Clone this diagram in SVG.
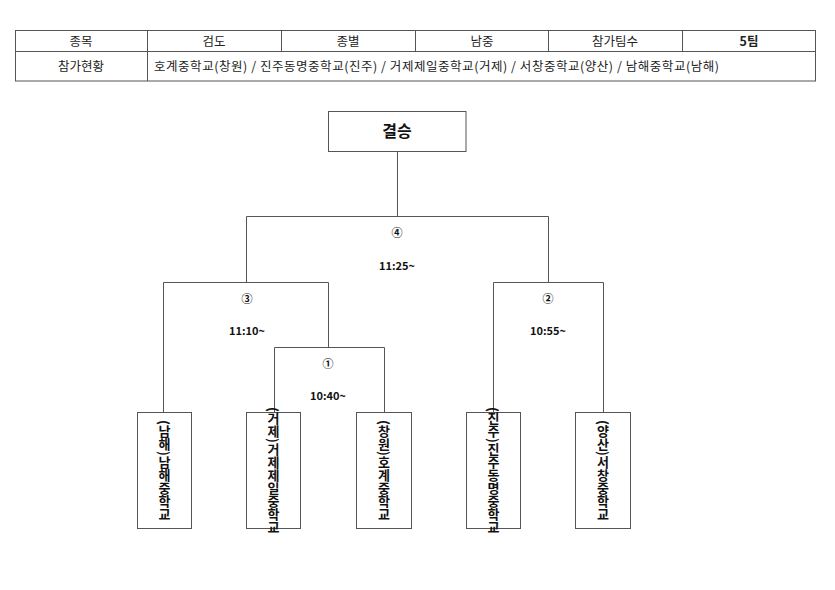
<svg xmlns="http://www.w3.org/2000/svg" width="835" height="590" viewBox="0 0 835 590">
<style>
.ln{fill:none;stroke:#555;stroke-width:1}
.tt{font-family:"Noto Sans CJK KR","Liberation Sans",sans-serif;font-size:12.5px;fill:#222}
.c{text-anchor:middle}
.lb{font-family:"Noto Sans CJK KR","Liberation Sans",sans-serif;font-size:11px;font-weight:bold;fill:#111;text-anchor:middle}
.ttl{font-family:"Noto Sans CJK KR","Liberation Sans",sans-serif;font-size:16px;font-weight:bold;fill:#111;text-anchor:middle}
.vt{font-family:"Noto Sans CJK KR","Liberation Sans",sans-serif;font-size:13px;font-weight:bold;fill:#111;writing-mode:vertical-rl;text-anchor:middle}
</style>
<rect width="835" height="590" fill="#fff"/>
<g id="table">
<rect class="ln" x="15.5" y="30.5" width="800" height="50.5"/>
<line class="ln" x1="15.5" y1="51.5" x2="815.5" y2="51.5"/>
<line class="ln" x1="147.5" y1="30.5" x2="147.5" y2="81"/>
<line class="ln" x1="281.5" y1="30.5" x2="281.5" y2="51.5"/>
<line class="ln" x1="415.5" y1="30.5" x2="415.5" y2="51.5"/>
<line class="ln" x1="548.5" y1="30.5" x2="548.5" y2="51.5"/>
<line class="ln" x1="682.5" y1="30.5" x2="682.5" y2="51.5"/>
<text class="tt c" x="81" y="45.5">종목</text>
<text class="tt c" x="214" y="45.5">검도</text>
<text class="tt c" x="348" y="45.5">종별</text>
<text class="tt c" x="482" y="45.5">남중</text>
<text class="tt c" x="615" y="45.5">참가팀수</text>
<text class="tt c" x="749" y="45.5" font-weight="bold">5팀</text>
<text class="tt c" x="81" y="70.5">참가현황</text>
<text class="tt" x="154" y="70.5" textLength="565" lengthAdjust="spacing">호계중학교(창원) / 진주동명중학교(진주) / 거제제일중학교(거제) / 서창중학교(양산) / 남해중학교(남해)</text>
</g>
<g id="final">
<rect class="ln" x="328.5" y="111.5" width="137.5" height="40"/>
<text class="ttl" x="397" y="137">결승</text>
</g>
<g id="connectors">
<line class="ln" x1="397.5" y1="151.5" x2="397.5" y2="216.5"/>
<polyline class="ln" points="246.5,282.5 246.5,216.5 548.5,216.5 548.5,282.5"/>
<polyline class="ln" points="163.5,412.5 163.5,282.5 328.5,282.5 328.5,347.5"/>
<polyline class="ln" points="274.5,412.5 274.5,347.5 384.5,347.5 384.5,412.5"/>
<polyline class="ln" points="493.5,412.5 493.5,282.5 603.5,282.5 603.5,412.5"/>
</g>
<g id="m4">
<text class="lb" x="397" y="237">④</text>
<text class="lb" x="397" y="270">11:25~</text>
</g>
<g id="m3">
<text class="lb" x="247" y="303">③</text>
<text class="lb" x="247" y="335">11:10~</text>
</g>
<g id="m2">
<text class="lb" x="548" y="303">②</text>
<text class="lb" x="548" y="335">10:55~</text>
</g>
<g id="m1">
<text class="lb" x="328" y="368">①</text>
<text class="lb" x="328" y="400">10:40~</text>
</g>
<g id="team1">
<rect class="ln" x="137.5" y="412.5" width="54" height="116"/>
<text class="vt" x="164.5" y="470.5">(남해)남해중학교</text>
</g>
<g id="team2">
<rect class="ln" x="246.5" y="412.5" width="54" height="116"/>
<text class="vt" x="273.5" y="470.5">(거제)거제제일중학교</text>
</g>
<g id="team3">
<rect class="ln" x="356.5" y="412.5" width="55" height="116"/>
<text class="vt" x="384" y="470.5">(창원)호계중학교</text>
</g>
<g id="team4">
<rect class="ln" x="466.5" y="412.5" width="54" height="116"/>
<text class="vt" x="493.5" y="470.5">(진주)진주동명중학교</text>
</g>
<g id="team5">
<rect class="ln" x="575.5" y="412.5" width="55" height="116"/>
<text class="vt" x="603" y="470.5">(양산)서창중학교</text>
</g>
</svg>
